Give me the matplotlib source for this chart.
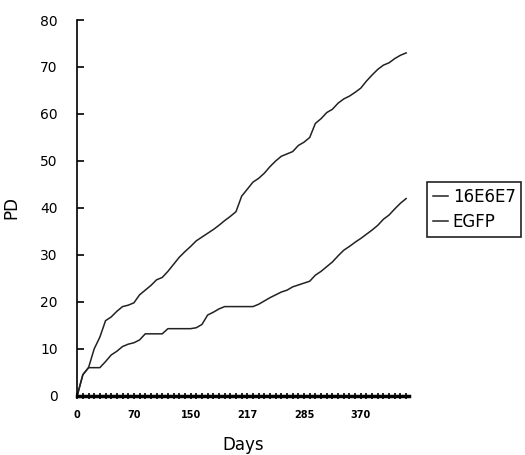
import matplotlib
matplotlib.use("Agg")
import matplotlib.pyplot as plt
import numpy as np

# PD values, one per sampling point
pd_16e6e7 = [0, 4.5, 6, 10, 12.5, 16, 16.8, 18, 19, 19.3,
             19.8, 21.5, 22.5, 23.5, 24.7, 25.2, 26.5, 28, 29.5, 30.7,
             31.8, 33, 33.8, 34.6, 35.4, 36.3, 37.3, 38.2, 39.2, 42.5,
             44, 45.5, 46.3, 47.4, 48.8, 50, 51, 51.5, 52, 53.3,
             54, 55, 58, 59, 60.3, 61, 62.3, 63.2, 63.8, 64.6,
             65.5, 67, 68.3, 69.5, 70.4, 70.9, 71.8, 72.5, 73]
pd_egfp = [0, 4.5, 6, 6, 6, 7.3, 8.7, 9.5, 10.5, 11,
           11.3, 11.9, 13.2, 13.2, 13.2, 13.2, 14.3, 14.3, 14.3, 14.3,
           14.3, 14.5, 15.2, 17.2, 17.8, 18.5, 19, 19, 19, 19,
           19, 19, 19.5, 20.2, 20.9, 21.5, 22.1, 22.5, 23.2, 23.6,
           24, 24.4, 25.7, 26.5, 27.5, 28.5, 29.8, 31, 31.8, 32.7,
           33.5, 34.4, 35.3, 36.3, 37.6, 38.5, 39.8, 41, 42]
day_labels = ["0", "70", "150", "217", "285", "370"]

x = np.arange(len(pd_16e6e7))

fig = plt.figure(figsize=(5.25, 4.55), dpi=100)
ax = fig.add_axes([0.147, 0.13, 0.632, 0.826])

ax.plot(x, pd_16e6e7, color="#222222", lw=1.1, label="16E6E7")
ax.plot(x, pd_egfp, color="#222222", lw=1.1, label="EGFP")

ax.set_xlim(0, len(x) - 0.5)
ax.set_ylim(0, 80)
ax.spines["top"].set_visible(False)
ax.spines["right"].set_visible(False)
ax.spines["left"].set_linewidth(1.2)
ax.spines["bottom"].set_linewidth(2.5)

# dense category ticks on the x axis, labels every 10 points
ax.set_xticks(x, minor=True)
ax.set_xticks(x[::10][:len(day_labels)])
ax.set_xticklabels(day_labels, fontsize=7, fontweight="bold")
ax.tick_params(axis="x", which="both", direction="inout", length=4, width=1.2,
               pad=8)
ax.set_yticks(range(0, 81, 10))
ax.tick_params(axis="y", direction="in", length=5, width=1.2, labelsize=10,
               pad=14)

ax.set_xlabel("Days", fontsize=12, labelpad=12)
ax.set_ylabel("PD", fontsize=12, labelpad=14)

leg = ax.legend(loc="upper left", bbox_to_anchor=(0.813, 0.6),
                bbox_transform=fig.transFigure, fontsize=12,
                handlelength=0.9, handletextpad=0.3, borderpad=0.35,
                borderaxespad=0, fancybox=False, framealpha=1,
                labelspacing=0.45)
leg.get_frame().set_edgecolor("#222222")
leg.get_frame().set_linewidth(1.2)

fig.savefig("out.png", dpi=100)
